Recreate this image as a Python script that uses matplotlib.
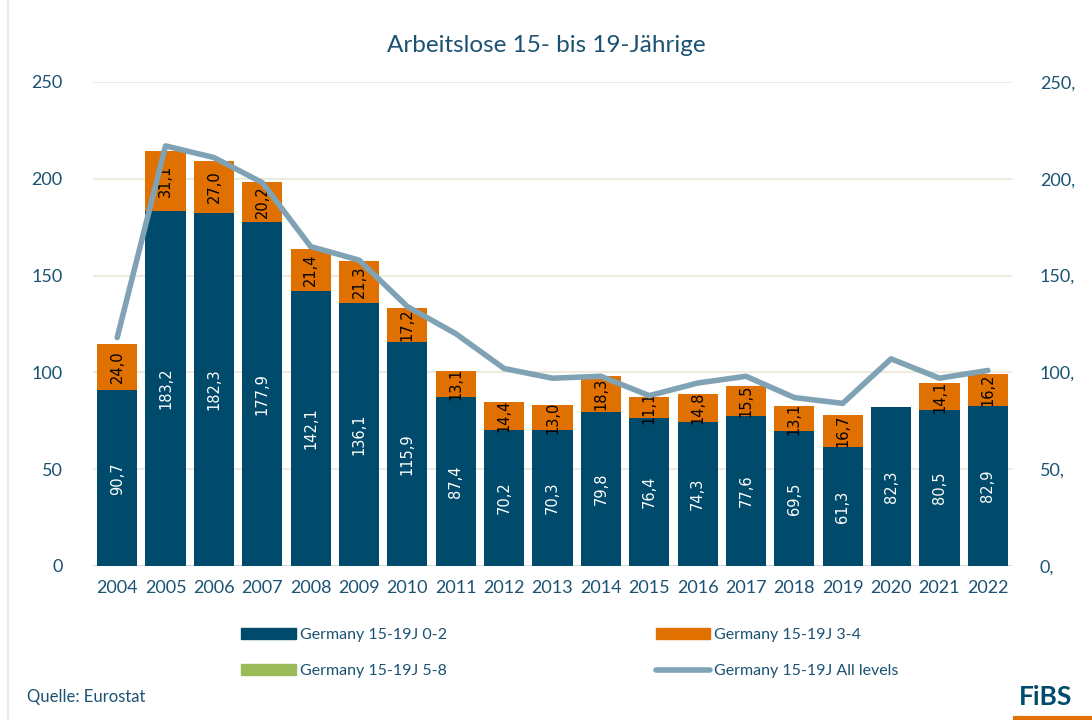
import numpy as np
import matplotlib.pyplot as plt
from matplotlib.lines import Line2D
from matplotlib.patches import Patch

jahre = ['2004', '2005', '2006', '2007', '2008', '2009', '2010', '2011', '2012', '2013',
         '2014', '2015', '2016', '2017', '2018', '2019', '2020', '2021', '2022']
isced_02 = [90.7, 183.2, 182.3, 177.9, 142.1, 136.1, 115.9, 87.4, 70.2, 70.3,
            79.8, 76.4, 74.3, 77.6, 69.5, 61.3, 82.3, 80.5, 82.9]
isced_34 = [24.0, 31.1, 27.0, 20.2, 21.4, 21.3, 17.2, 13.1, 14.4, 13.0,
            18.3, 11.1, 14.8, 15.5, 13.1, 16.7, 0.0, 14.1, 16.2]
isced_58 = [0.0] * 19
alle = [118, 217, 211, 198, 165, 158, 134, 120, 102, 97,
        98, 88, 94.5, 98, 87, 84, 107, 97, 101]

blau = '#004B6B'
orange = '#E07000'
gruen = '#9BBB59'
linie = '#7FA3B5'
text = '#1B5273'
gitter = '#EEEAE0'

plt.rcParams['font.family'] = ['Lato', 'DejaVu Sans']

fig = plt.figure(figsize=(10.92, 7.2), dpi=100)
ax = fig.add_axes([93/1092, 1-566/720, (1012-93)/1092, (566-82)/720])
ax2 = ax.twinx()

x = np.arange(len(jahre))
b1 = ax.bar(x, isced_02, width=0.83, color=blau, zorder=2)
b2 = ax.bar(x, isced_34, width=0.83, bottom=isced_02, color=orange, zorder=2)
b3 = ax.bar(x, isced_58, width=0.83, bottom=np.add(isced_02, isced_34), color=gruen, zorder=2)

for i in range(len(jahre)):
    ax.text(x[i], isced_02[i] / 2, f'{isced_02[i]:.1f}'.replace('.', ','), rotation=90,
            ha='center', va='center', color='white', fontsize=10.5, family='DejaVu Sans', zorder=3)
    if isced_34[i] > 0:
        ax.text(x[i], isced_02[i] + isced_34[i] / 2, f'{isced_34[i]:.1f}'.replace('.', ','),
                rotation=90, ha='center', va='center', color='black', fontsize=10.5,
                family='DejaVu Sans', zorder=3)

ax2.plot(x, alle, color=linie, lw=4, solid_capstyle='round', zorder=4)

for a in (ax, ax2):
    a.set_ylim(0, 250)
    a.set_xlim(-0.5, len(jahre) - 0.5)
    for s in a.spines.values():
        s.set_visible(False)
    a.tick_params(length=0, labelsize=13, colors=text)

ax.set_yticks(range(0, 251, 50))
ax.yaxis.grid(True, color=gitter, lw=1.5, zorder=0)
ax.set_axisbelow(True)
ax.tick_params(axis='y', pad=22)
ax.set_xticks(x)
ax.set_xticklabels(jahre)
ax.tick_params(axis='x', pad=10)
ax.axhline(0, color='#D9D9D9', lw=1.5, zorder=1)

ax2.set_yticks(range(0, 251, 50))
ax2.set_yticklabels([f'{v},' for v in range(0, 251, 50)])
ax2.tick_params(axis='y', pad=20)
ax.set_zorder(ax2.get_zorder() - 1)
ax.patch.set_visible(False)
ax2.patch.set_visible(False)

fig.text(0.5, 1 - 45/720, 'Arbeitslose 15- bis 19-Jährige', ha='center', va='center',
         fontsize=17.5, color=text)

handles = [Patch(color=blau), Patch(color=gruen), Patch(color=orange),
           Line2D([], [], color=linie, lw=4, solid_capstyle='round')]
labels = ['Germany 15-19J 0-2', 'Germany 15-19J 5-8', 'Germany 15-19J 3-4',
          'Germany 15-19J All levels']
leg = fig.legend(handles, labels, ncol=2, loc='center left', bbox_to_anchor=(227/1092, 1 - 653/720),
                 frameon=False, fontsize=11.5, handlelength=3.4, handleheight=0.7,
                 columnspacing=13.1, labelspacing=1.4, handletextpad=0.25)
for t in leg.get_texts():
    t.set_color(text)

fig.text(27/1092, 1 - 697/720, 'Quelle: Eurostat', fontsize=12, color=text, va='center')
fig.text(1072/1092, 1 - 697/720, 'FiBS', fontsize=19, color=blau, ha='right', va='center',
         weight='bold')
fig.add_artist(Line2D([1015/1092, 1092/1092], [2/720, 2/720], color=orange, lw=3))
fig.add_artist(Line2D([8/1092, 8/1092], [0, 1], color=gitter, lw=1.5))

fig.savefig('out.png', dpi=100)
